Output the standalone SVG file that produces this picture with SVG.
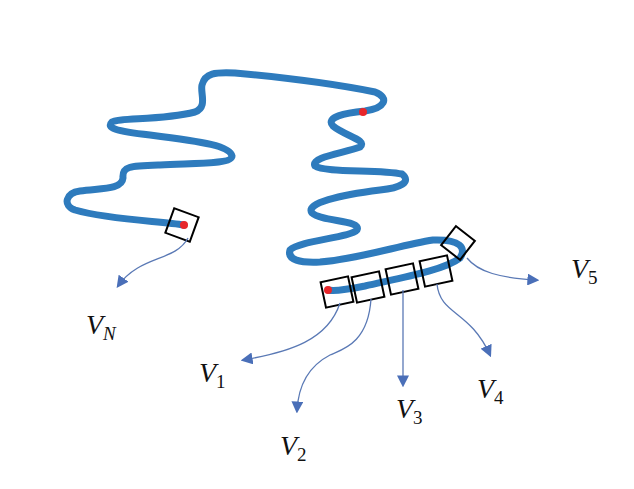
<svg xmlns="http://www.w3.org/2000/svg" width="634" height="489" viewBox="0 0 634 489">
<style>
.chain{fill:none;stroke:#2e7bbd;stroke-width:7;stroke-linecap:round;stroke-linejoin:round}
.box{fill:none;stroke:#000;stroke-width:2}
.dot{fill:#e8262a}
.arr{fill:none;stroke:#5a79b5;stroke-width:1.3;marker-end:url(#ah)}
.lbl{font-family:"Liberation Serif",serif;font-style:italic;font-size:28px;fill:#111}
.sub{font-family:"Liberation Serif",serif;font-size:19px}
</style>
<defs>
<marker id="ah" viewBox="0 0 10 10" refX="8" refY="5" markerWidth="12" markerHeight="12" markerUnits="userSpaceOnUse" orient="auto"><path d="M0,0 L10,5 L0,10 z" fill="#4a6fb8"/></marker>
</defs>
<rect width="634" height="489" fill="#fff"/>
<g id="chain">
<path class="chain" d="M184,225 C160,221 110,220 75,210 C62,205 66,193 80,191 C100,188 122,190 123,178 C122,166 130,166 160,165 C200,163 232,164 232,156 C230,146 205,142 150,135 C115,131 106,128 112,122 C120,117 160,121 195,112 C208,107 200,93 202,85 C205,73 215,72 235,73 C290,78 340,85 375,92 C390,98 385,108 365,111 C345,113 325,117 333,126 C345,136 368,140 360,147 C345,153 310,157 315,166 C325,173 380,169 402,174 C412,182 400,188 380,190 C340,195 305,203 312,213 C322,222 362,220 357,230 C350,238 300,240 290,250 C287,260 300,263 320,262 C360,259 400,245 433,240 C460,239 467,248 460,258 C445,270 400,278 365,286 C345,290 332,291 328,290"/>
</g>
<g id="dots">
<circle class="dot" cx="184" cy="225" r="4"/>
<circle class="dot" cx="363" cy="112" r="4"/>
<circle class="dot" cx="328" cy="290" r="4"/>
</g>
<g id="boxN"><rect class="box" x="-13" y="-13" width="26" height="26" transform="translate(182,225) rotate(20)"/></g>
<g id="box1"><rect class="box" x="-14" y="-13" width="28" height="26" transform="translate(337,292) rotate(-12)"/></g>
<g id="box2"><rect class="box" x="-14" y="-13" width="28" height="26" transform="translate(368,287) rotate(-12)"/></g>
<g id="box3"><rect class="box" x="-14" y="-13" width="28" height="26" transform="translate(402,279) rotate(-12)"/></g>
<g id="box4"><rect class="box" x="-14" y="-13" width="28" height="26" transform="translate(436,271) rotate(-12)"/></g>
<g id="box5"><rect class="box" x="-12" y="-12" width="24" height="24" transform="translate(458,243) rotate(38)"/></g>
<g id="connectors">
<path class="arr" d="M188,238 C175,262 140,255 118,286"/>
<path class="arr" d="M340,303 C328,340 290,352 243,360"/>
<path class="arr" d="M371,299 C368,345 340,350 330,355 C305,368 298,390 297,411"/>
<path class="arr" d="M403,290 L403,385"/>
<path class="arr" d="M437,284 C440,315 470,310 490,355"/>
<path class="arr" d="M467,258 C478,272 500,278 537,280"/>
</g>
<g id="labels">
<text class="lbl" x="86" y="334">V<tspan class="sub" dy="6">N</tspan></text>
<text class="lbl" x="199" y="382">V<tspan class="sub" dy="6" font-style="normal">1</tspan></text>
<text class="lbl" x="280" y="455">V<tspan class="sub" dy="6" font-style="normal">2</tspan></text>
<text class="lbl" x="396" y="418">V<tspan class="sub" dy="6" font-style="normal">3</tspan></text>
<text class="lbl" x="477" y="398">V<tspan class="sub" dy="6" font-style="normal">4</tspan></text>
<text class="lbl" x="571" y="278">V<tspan class="sub" dy="6" font-style="normal">5</tspan></text>
</g>
</svg>
